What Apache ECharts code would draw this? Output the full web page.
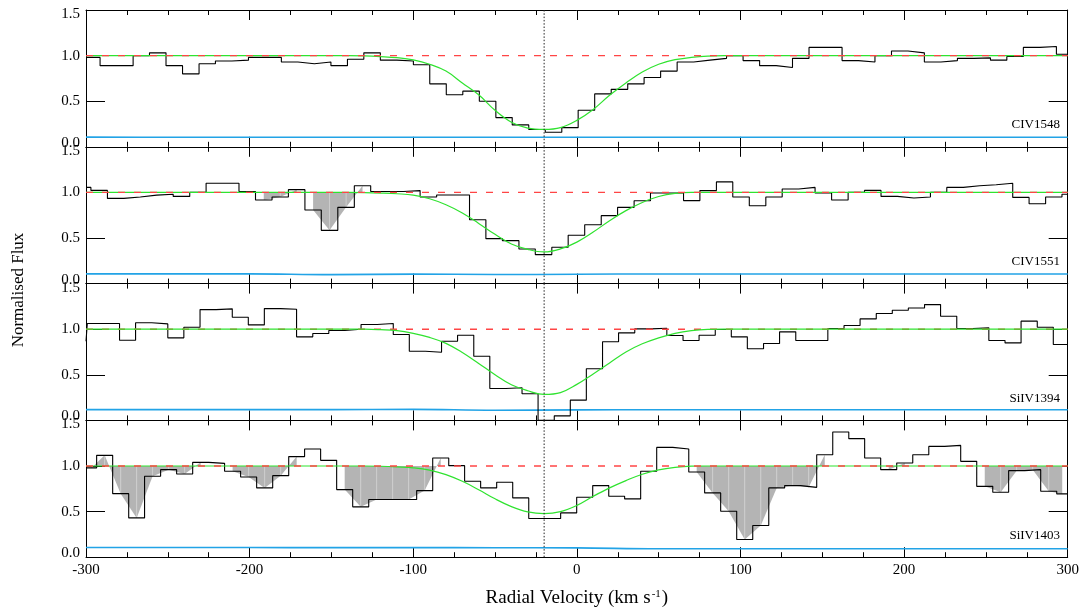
<!DOCTYPE html>
<html>
<head>
<meta charset="utf-8">
<title>Normalised flux profiles</title>
<script src="https://cdn.jsdelivr.net/npm/echarts@6/dist/echarts.min.js"></script>
<style>
  html, body { margin: 0; padding: 0; background: #ffffff; }
  #chart { width: 1085px; height: 610px; }
</style>
</head>
<body>
<div id="chart"></div>
<script>
// Velocity window, tick values and reference levels
const velocityRange = [-300, 300];
const velocityTicks = [-300, -200, -100, 0, 100, 200, 300];
const fluxTicks = [0.0, 0.5, 1.0, 1.5];
const continuumLevel = 1.0;
const systemicVelocity = -20;

// CIV 1548: left edge of each pixel (km/s) and normalised flux
const civ1548Edges = [-300, -291.4, -281.3, -271.2, -261.2, -251.1, -241.0, -230.9, -220.9, -210.8, -200.7, -190.6, -180.6, -170.5, -160.4, -150.3, -140.2, -130.2, -120.1, -110.0, -99.9, -89.9, -79.8, -69.7, -59.6, -49.5, -39.5, -29.4, -19.3, -9.2, 0.8, 10.9, 21.0, 31.1, 41.1, 51.2, 61.3, 71.4, 81.4, 91.5, 101.6, 111.7, 121.8, 131.8, 141.9, 152.0, 162.1, 172.1, 182.2, 192.3, 202.4, 212.4, 222.5, 232.6, 242.7, 252.8, 262.8, 272.9, 283.0, 293.1];
const civ1548Flux = [0.98, 0.89, 0.89, 1.00, 1.03, 0.89, 0.80, 0.91, 0.94, 0.95, 0.98, 0.98, 0.93, 0.91, 0.93, 0.89, 0.96, 1.03, 0.95, 0.94, 0.90, 0.69, 0.57, 0.61, 0.50, 0.32, 0.24, 0.19, 0.16, 0.21, 0.40, 0.58, 0.63, 0.69, 0.76, 0.83, 0.93, 0.95, 0.97, 1.00, 0.945, 0.89, 0.87, 0.97, 1.09, 1.09, 0.945, 0.93, 1.00, 1.05, 1.03, 0.93, 0.945, 0.97, 0.975, 0.95, 0.99, 1.09, 1.10, 1.015];

// CIV 1551
const civ1551Edges = [-300, -297.0, -286.9, -276.9, -266.8, -256.8, -246.7, -236.6, -226.6, -216.5, -206.5, -196.4, -186.3, -176.3, -166.2, -156.2, -146.1, -136.0, -126.0, -115.9, -105.9, -95.8, -85.7, -75.7, -65.6, -55.6, -45.5, -35.4, -25.4, -15.3, -5.3, 4.8, 14.9, 24.9, 35.0, 45.0, 55.1, 65.2, 75.2, 85.3, 95.3, 105.4, 115.5, 125.5, 135.6, 145.6, 155.7, 165.8, 175.8, 185.9, 195.9, 206.0, 216.1, 226.1, 236.2, 246.2, 256.3, 266.4, 276.4, 286.5, 296.5];
const civ1551Flux = [1.055, 1.022, 0.934, 0.95, 0.97, 0.98, 0.956, 1.0, 1.10, 1.10, 1.01, 0.916, 0.95, 1.03, 0.807, 0.584, 0.836, 1.073, 1.01, 1.01, 1.02, 0.949, 0.971, 0.971, 0.70, 0.493, 0.471, 0.38, 0.318, 0.398, 0.53, 0.646, 0.745, 0.836, 0.909, 0.993, 0.993, 0.91, 1.02, 1.115, 0.949, 0.854, 0.949, 1.037, 1.055, 0.993, 0.916, 1.0, 1.022, 0.956, 0.938, 0.949, 1.0, 1.055, 1.073, 1.084, 1.10, 0.945, 0.876, 0.949, 0.98];

// SiIV 1394
const siiv1394Edges = [-300, -299.2, -289.4, -279.5, -269.7, -259.8, -250.0, -240.2, -230.3, -220.5, -210.6, -200.8, -191.0, -181.1, -171.3, -161.4, -151.6, -141.8, -131.9, -122.1, -112.2, -102.4, -92.6, -82.7, -72.9, -63.0, -53.2, -43.4, -33.5, -23.7, -13.8, -4.0, 5.8, 15.7, 25.5, 35.4, 45.2, 55.0, 64.9, 74.7, 84.6, 94.4, 104.2, 114.1, 123.9, 133.8, 143.6, 153.4, 163.3, 173.1, 183.0, 192.8, 202.6, 212.5, 222.3, 232.2, 242.0, 251.8, 261.7, 271.5, 281.4, 291.2];
const siiv1394Flux = [0.868, 1.062, 1.062, 0.879, 1.07, 1.058, 0.905, 1.022, 1.215, 1.223, 1.131, 1.047, 1.226, 1.219, 0.916, 0.953, 0.985, 1.0, 1.051, 1.062, 0.942, 0.759, 0.748, 0.868, 0.934, 0.704, 0.35, 0.358, 0.292, 0.0, 0.05, 0.222, 0.566, 0.862, 0.96, 1.004, 1.01, 0.931, 0.876, 0.934, 0.996, 0.916, 0.785, 0.843, 0.971, 0.876, 0.876, 1.007, 1.04, 1.113, 1.172, 1.208, 1.233, 1.27, 1.142, 1.007, 1.015, 0.876, 0.85, 1.088, 1.022, 0.832];

// SiIV 1403
const siiv1403Edges = [-300, -293.5, -283.7, -273.9, -264.2, -254.4, -244.6, -234.8, -225.0, -215.3, -205.5, -195.7, -185.9, -176.1, -166.4, -156.6, -146.8, -137.0, -127.2, -117.5, -107.7, -97.9, -88.1, -78.3, -68.6, -58.8, -49.0, -39.2, -29.4, -19.7, -9.9, -0.1, 9.7, 19.5, 29.2, 39.0, 48.8, 58.6, 68.4, 78.1, 87.9, 97.7, 107.5, 117.3, 127.0, 136.8, 146.6, 156.4, 166.2, 175.9, 185.7, 195.5, 205.3, 215.1, 224.8, 234.6, 244.4, 254.2, 263.9, 273.7, 283.5, 293.3];
const siiv1403Flux = [0.979, 1.117, 0.697, 0.431, 0.887, 0.96, 0.913, 1.04, 1.029, 0.942, 0.88, 0.76, 0.894, 1.103, 1.187, 1.062, 0.741, 0.552, 0.632, 0.632, 0.632, 0.73, 1.088, 1.004, 0.832, 0.76, 0.821, 0.65, 0.424, 0.424, 0.486, 0.657, 0.785, 0.668, 0.639, 0.942, 1.204, 1.187, 0.935, 0.705, 0.504, 0.194, 0.347, 0.76, 0.785, 0.766, 1.124, 1.373, 1.30, 1.088, 0.96, 1.033, 1.124, 1.215, 1.226, 1.051, 0.777, 0.712, 0.949, 0.96, 0.723, 0.694];

// Model profiles sampled on a common velocity grid
const fitVelocity = [-300, -150, -140, -130, -120, -110, -100, -90, -80, -70, -60, -50, -40, -30, -20, -10, 0, 10, 20, 30, 40, 50, 60, 70, 80, 90, 100, 300];
const civ1548Fit = [1, 1, 1.0, 0.997, 0.989, 0.977, 0.953, 0.905, 0.83, 0.70, 0.57, 0.40, 0.27, 0.205, 0.19, 0.21, 0.29, 0.41, 0.565, 0.70, 0.82, 0.905, 0.955, 0.98, 0.995, 1.0, 1.0, 1];
const civ1551Fit = [1, 1, 1.0, 0.998, 0.993, 0.985, 0.97, 0.93, 0.865, 0.775, 0.66, 0.54, 0.435, 0.375, 0.347, 0.38, 0.455, 0.565, 0.69, 0.80, 0.89, 0.955, 0.99, 1.0, 1.0, 1.0, 1.0, 1];
const siiv1394Fit = [1, 1, 1.0, 1.0, 0.995, 0.985, 0.955, 0.91, 0.845, 0.745, 0.625, 0.50, 0.39, 0.325, 0.285, 0.305, 0.395, 0.51, 0.63, 0.75, 0.84, 0.905, 0.955, 0.985, 0.998, 1.0, 1.0, 1];
const siiv1403Fit = [1, 1, 1.0, 1.0, 0.997, 0.99, 0.98, 0.955, 0.905, 0.832, 0.74, 0.64, 0.555, 0.497, 0.478, 0.50, 0.568, 0.668, 0.76, 0.84, 0.91, 0.958, 0.985, 0.998, 1.0, 1.0, 1.0, 1];

// Flux uncertainty
const errVelocity = [-300, -250, -200, -150, -100, -50, 0, 50, 100, 150, 200, 250, 300];
const civ1548Err = [0.106, 0.105, 0.105, 0.105, 0.104, 0.104, 0.104, 0.105, 0.105, 0.105, 0.105, 0.105, 0.105];
const civ1551Err = [0.107, 0.107, 0.107, 0.098, 0.104, 0.100, 0.102, 0.106, 0.106, 0.106, 0.106, 0.106, 0.106];
const siiv1394Err = [0.118, 0.118, 0.118, 0.118, 0.121, 0.112, 0.115, 0.117, 0.117, 0.117, 0.117, 0.117, 0.117];
const siiv1403Err = [0.106, 0.106, 0.106, 0.105, 0.105, 0.104, 0.102, 0.092, 0.092, 0.093, 0.093, 0.092, 0.092];

// Velocity intervals affected by blends (shaded)
const civ1551Blends = [[-192, -171], [-162, -130]];
const siiv1403Blends = [[-297, -229], [-211, -171], [-142, -83], [73, 152], [190, 201], [249, 297]];

const panels = [
  { name: 'CIV1548', edges: civ1548Edges, flux: civ1548Flux, fit: civ1548Fit, err: civ1548Err, blends: [], fitOverContinuum: false },
  { name: 'CIV1551', edges: civ1551Edges, flux: civ1551Flux, fit: civ1551Fit, err: civ1551Err, blends: civ1551Blends, fitOverContinuum: false },
  { name: 'SiIV1394', edges: siiv1394Edges, flux: siiv1394Flux, fit: siiv1394Fit, err: siiv1394Err, blends: [], fitOverContinuum: true },
  { name: 'SiIV1403', edges: siiv1403Edges, flux: siiv1403Flux, fit: siiv1403Fit, err: siiv1403Err, blends: siiv1403Blends, fitOverContinuum: false }
];

const serif = '"Liberation Serif", "Times New Roman", serif';
const frame = { left: 86, right: 17.3, top: 10, panelHeight: 136.8 };
const colors = { data: '#000000', fit: '#2fe32f', continuum: '#ff4545', error: '#22a3e6', blend: '#b4b4b4', seam: '#cdcdcd' };

function binCentres(edges) {
  return edges.map((e, j) => (e + (j + 1 < edges.length ? edges[j + 1] : velocityRange[1])) / 2);
}

function blendSegments(p) {
  const centres = binCentres(p.edges);
  const items = [];
  p.blends.forEach(([a, b]) => {
    const pts = [];
    centres.forEach((c, j) => { if (c >= a && c <= b) pts.push([c, p.flux[j]]); });
    for (let k = 0; k + 1 < pts.length; k++) {
      items.push([pts[k][0], pts[k][1], pts[k + 1][0], pts[k + 1][1], k === 0 ? 1 : 0]);
    }
  });
  return items;
}

const grid = [], xAxis = [], yAxis = [], series = [], graphic = [];

panels.forEach((p, i) => {
  const top = frame.top + i * frame.panelHeight;
  grid.push({ left: frame.left, right: frame.right, top: top, height: frame.panelHeight, outerBoundsMode: 'none' });

  ['bottom', 'top'].forEach(pos => {
    xAxis.push({
      type: 'value', gridIndex: i, position: pos,
      min: velocityRange[0], max: velocityRange[1], interval: 100,
      axisLine: { show: true, onZero: false, lineStyle: { color: '#000', width: 1 } },
      axisTick: { show: true, inside: true, length: 10, lineStyle: { color: '#000', width: 1 } },
      minorTick: { show: true, splitNumber: 4, length: 5, lineStyle: { color: '#000', width: 1 } },
      splitLine: { show: false }, minorSplitLine: { show: false },
      axisLabel: {
        show: pos === 'bottom' && i === panels.length - 1,
        margin: 5, color: '#000', fontFamily: serif, fontSize: 15,
        customValues: velocityTicks
      }
    });
  });

  ['left', 'right'].forEach(pos => {
    yAxis.push({
      type: 'value', gridIndex: i, position: pos,
      min: fluxTicks[0], max: fluxTicks[fluxTicks.length - 1], interval: 0.5,
      axisLine: { show: true, onZero: false, lineStyle: { color: '#000', width: 1 } },
      axisTick: { show: true, inside: true, length: 19, lineStyle: { color: '#000', width: 1 } },
      splitLine: { show: false },
      axisLabel: {
        show: pos === 'left',
        margin: 6, color: '#000', fontFamily: serif, fontSize: 15,
        formatter: v => v === fluxTicks[0] ? '{lo|' + v.toFixed(1) + '}'
                      : v === fluxTicks[fluxTicks.length - 1] ? '{hi|' + v.toFixed(1) + '}'
                      : v.toFixed(1),
        rich: {
          lo: { fontFamily: serif, fontSize: 15, color: '#000', padding: [0, 0, 8, 0] },
          hi: { fontFamily: serif, fontSize: 15, color: '#000', padding: [8, 0, 0, 0] }
        }
      }
    });
  });

  const xi = 2 * i, yi = 2 * i;

  // shaded blends
  const segs = blendSegments(p);
  if (segs.length) {
    series.push({
      type: 'custom', xAxisIndex: xi, yAxisIndex: yi, z: 1, silent: true,
      data: segs,
      encode: { x: [0, 2], y: [1, 3] },
      renderItem: (params, api) => {
        const a = api.coord([api.value(0), continuumLevel]);
        const b = api.coord([api.value(0), api.value(1)]);
        const c = api.coord([api.value(2), api.value(3)]);
        const d = api.coord([api.value(2), continuumLevel]);
        const children = [{ type: 'polygon', shape: { points: [a, b, c, d] }, style: { fill: colors.blend } }];
        if (api.value(4) === 0) {
          children.push({ type: 'line', shape: { x1: a[0], y1: a[1], x2: b[0], y2: b[1] }, style: { stroke: colors.seam, lineWidth: 1 } });
        }
        return { type: 'group', children: children };
      }
    });
  }

  // flux uncertainty
  series.push({
    type: 'line', xAxisIndex: xi, yAxisIndex: yi, z: 2, silent: true,
    data: errVelocity.map((v, j) => [v, p.err[j]]),
    smooth: 0.4, symbol: 'none',
    lineStyle: { color: colors.error, width: 1.6 }
  });

  // observed spectrum, one step per pixel
  series.push({
    type: 'line', xAxisIndex: xi, yAxisIndex: yi, z: 3, silent: true,
    data: p.edges.map((e, j) => [e, p.flux[j]]).concat([[velocityRange[1], p.flux[p.flux.length - 1]]]),
    step: 'end', symbol: 'none',
    lineStyle: { color: colors.data, width: 1.1 }
  });

  // model profile
  series.push({
    type: 'line', xAxisIndex: xi, yAxisIndex: yi, z: p.fitOverContinuum ? 5 : 4, silent: true,
    data: fitVelocity.map((v, j) => [v, p.fit[j]]),
    smooth: 0.4, symbol: 'none',
    lineStyle: { color: colors.fit, width: 1.2 }
  });

  // continuum
  series.push({
    type: 'line', xAxisIndex: xi, yAxisIndex: yi, z: p.fitOverContinuum ? 4 : 5, silent: true,
    data: velocityRange.map(v => [v, continuumLevel]),
    symbol: 'none',
    lineStyle: { color: colors.continuum, width: 1.4, type: [7, 9] }
  });

  // systemic velocity marker
  series.push({
    type: 'line', xAxisIndex: xi, yAxisIndex: yi, z: 6, silent: true,
    data: [fluxTicks[0], fluxTicks[fluxTicks.length - 1]].map(f => [systemicVelocity, f]),
    symbol: 'none',
    lineStyle: { color: '#222', width: 1, type: [1.5, 1.8] }
  });

  graphic.push({
    type: 'text', x: 1060, y: top + 115, silent: true,
    style: { text: p.name, fill: '#000', font: '13px ' + serif, align: 'right', verticalAlign: 'middle' }
  });
});

graphic.push({
  type: 'text', x: 19, y: 290, rotation: Math.PI / 2, silent: true,
  style: { text: 'Normalised Flux', fill: '#000', font: '17px ' + serif, align: 'center', verticalAlign: 'middle' }
});
graphic.push({
  type: 'text', x: (frame.left + 1085 - frame.right) / 2, y: 598, silent: true,
  style: {
    text: '{a|Radial Velocity (km s}{b|-1}{a|)}',
    align: 'center', verticalAlign: 'middle',
    rich: {
      a: { fontFamily: serif, fontSize: 19, fill: '#000' },
      b: { fontFamily: serif, fontSize: 11, fill: '#000', verticalAlign: 'top', padding: [0, 1, 8, 1] }
    }
  }
});

const chart = echarts.init(document.getElementById('chart'), null, { renderer: 'canvas' });
chart.setOption({
  animation: false,
  backgroundColor: '#ffffff',
  grid: grid,
  xAxis: xAxis,
  yAxis: yAxis,
  series: series,
  graphic: graphic
});
</script>
</body>
</html>
